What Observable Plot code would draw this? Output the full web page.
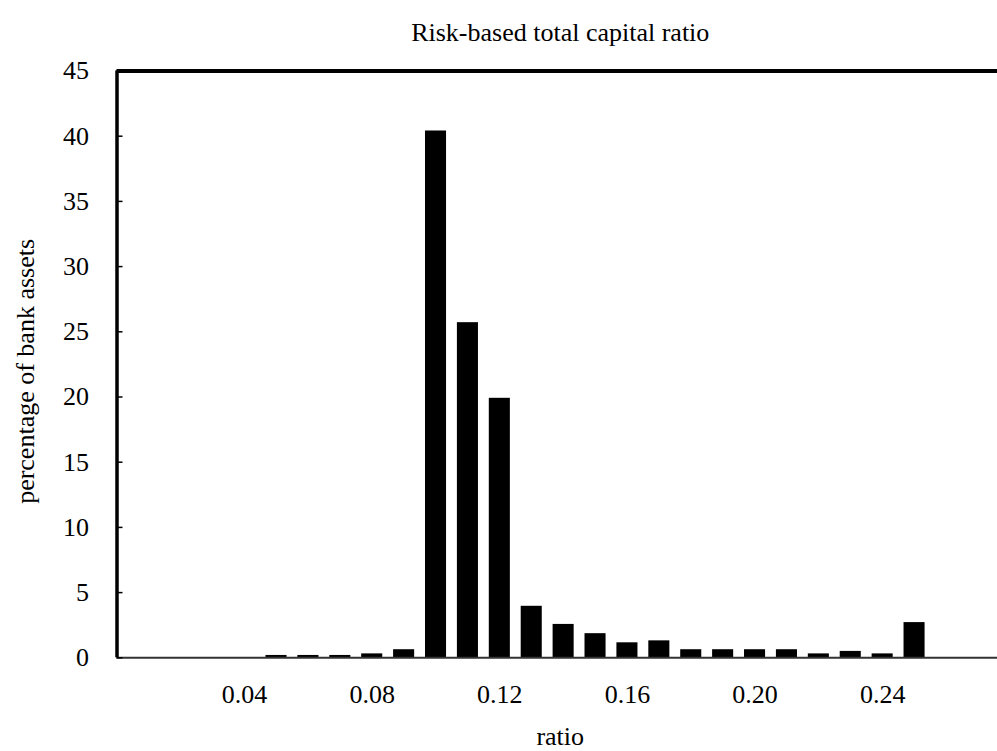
<!DOCTYPE html>
<html>
<head>
<meta charset="utf-8">
<script src="https://cdn.jsdelivr.net/npm/d3@7"></script>
<script src="https://cdn.jsdelivr.net/npm/@observablehq/plot@0.6"></script>
<style>
  html, body { margin: 0; padding: 0; background: #fff; }
  #chart svg { display: block; }
</style>
</head>
<body>
<div id="chart"></div>
<script>
const ratios = [0.05, 0.06, 0.07, 0.08, 0.09, 0.10, 0.11, 0.12, 0.13, 0.14, 0.15,
                0.16, 0.17, 0.18, 0.19, 0.20, 0.21, 0.22, 0.23, 0.24, 0.25];
const shares = [0.18, 0.18, 0.18, 0.3, 0.62, 40.4, 25.7, 19.9, 3.95, 2.56, 1.85,
                1.15, 1.3, 0.62, 0.62, 0.62, 0.62, 0.3, 0.49, 0.3, 2.7];
const xTicks = [0.04, 0.08, 0.12, 0.16, 0.20, 0.24];
const yTicks = [0, 5, 10, 15, 20, 25, 30, 35, 40, 45];
const title = "Risk-based total capital ratio";
const xTitle = "ratio";
const yTitle = "percentage of bank assets";

const data = ratios.map((r, i) => ({ratio: r, share: shares[i]}));
const half = 0.0033;
const font = "'Liberation Serif', 'Times New Roman', serif";

const chart = Plot.plot({
  width: 997,
  height: 751,
  marginLeft: 116.5,
  marginRight: 0,
  marginTop: 70.5,
  marginBottom: 93.7,
  style: {fontFamily: font, fontSize: "26px", color: "#000", background: "#fff"},
  x: {domain: [0, 0.276]},
  y: {domain: [0, 45]},
  marks: [
    Plot.rectY(data, {x1: d => d.ratio - half, x2: d => d.ratio + half, y1: 0, y2: "share", fill: "#000"}),
    Plot.ruleY([0], {stroke: "#333", strokeWidth: 2}),
    Plot.ruleY([45], {stroke: "#000", strokeWidth: 4}),
    Plot.ruleX([0], {stroke: "#000", strokeWidth: 3.5}),
    Plot.axisY({ticks: yTicks, tickSize: -6, tickPadding: 34, fontSize: 26, label: null, strokeWidth: 1.5}),
    Plot.axisX({ticks: xTicks, tickSize: 0, tickPadding: 27, fontSize: 26, label: null, tickFormat: d3.format(".2f")}),
    Plot.text([title], {frameAnchor: "top", lineAnchor: "bottom", textAnchor: "middle", dy: -30, dx: 3, fontSize: 26}),
    Plot.text([xTitle], {frameAnchor: "bottom", lineAnchor: "bottom", textAnchor: "middle", dy: 87.5, dx: 3, fontSize: 26}),
    Plot.text([yTitle], {frameAnchor: "left", lineAnchor: "bottom", textAnchor: "middle", rotate: -90, dx: -83.5, dy: 7, fontSize: 26})
  ]
});
document.getElementById("chart").appendChild(chart);
</script>
</body>
</html>
